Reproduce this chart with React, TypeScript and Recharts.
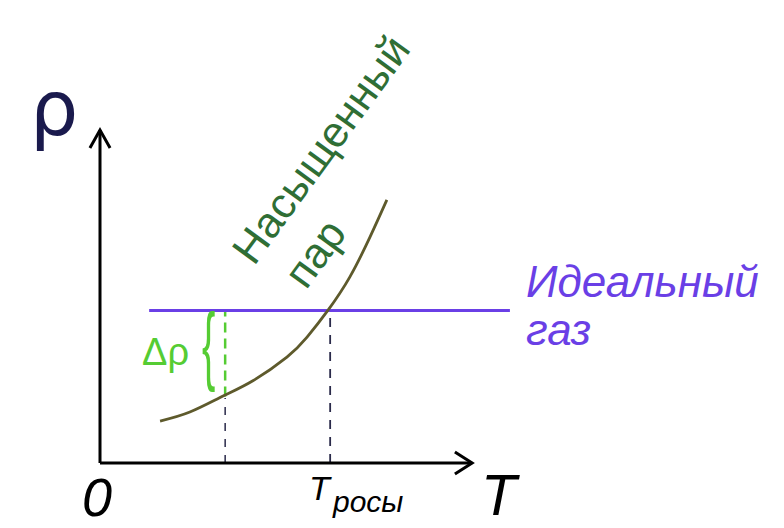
import { ComposedChart, Line, XAxis, YAxis } from 'recharts';

// saturated vapour curve  ρ(T)
const vaporT = [1.43, 2.14, 2.93, 3.64, 4.45, 4.93, 5.43, 5.95, 6.43, 6.83];
const vaporRho = [1.26, 1.53, 2.01, 2.47, 3.18, 3.78, 4.59, 5.59, 6.79, 7.9];

// ideal gas: constant density
const idealT = [1.17, 9.76];
const idealRho = [4.58, 4.58];

// dew point and the Δρ marker
const dewT = [5.48, 5.48];
const dewRho = [0, 4.58];
const deltaT = [2.98, 2.98];
const deltaRho = [2.0, 4.58];
const deltaBaseRho = [0, 1.95];

// axes with open arrow heads
const xAxisT = [0, 8.86];
const xAxisRho = [0, 0];
const yAxisT = [0, 0];
const yAxisRho = [0, 10];
const xArrowT = [8.45, 8.86, 8.45];
const xArrowRho = [0.33, 0, -0.33];
const yArrowT = [-0.24, 0, 0.24];
const yArrowRho = [9.46, 10, 9.46];

const zip = (t: number[], rho: number[]) => t.map((v, i) => ({ T: v, rho: rho[i] }));

const FONT = '"Liberation Sans", Arial, sans-serif';
const GREEN = '#55cc33';
const PURPLE = '#6a3fe6';

export default function App() {
  const common = { dataKey: 'rho', dot: false, activeDot: false, isAnimationActive: false, type: 'linear' as const };

  // domain starts at -0.5 so the arrow wings stay inside; origin lands at (100, 463)
  return (
    <div style={{ position: 'absolute', left: 0, top: 0, width: 784, height: 528, background: '#fff' }}>
      <ComposedChart width={784} height={528} margin={{ top: 130, right: 264, bottom: 48.35, left: 79 }}>
        <XAxis type="number" dataKey="T" domain={[-0.5, 10]} hide />
        <YAxis type="number" dataKey="rho" domain={[-0.5, 10]} hide />
        <Line {...common} data={zip(deltaT, deltaBaseRho)} stroke="#2a2a4a" strokeWidth={1.5} strokeDasharray="8 8" />
        <Line {...common} data={zip(dewT, dewRho)} stroke="#2a2a4a" strokeWidth={1.8} strokeDasharray="9 8" />
        <Line {...common} data={zip(deltaT, deltaRho)} stroke={GREEN} strokeWidth={2.5} strokeDasharray="10 6" />
        <Line {...common} data={zip(idealT, idealRho)} stroke={PURPLE} strokeWidth={3} />
        <Line {...common} type="natural" data={zip(vaporT, vaporRho)} stroke="#5e5a2c" strokeWidth={2.8} />
        <Line {...common} data={zip(xAxisT, xAxisRho)} stroke="#000" strokeWidth={3} />
        <Line {...common} data={zip(yAxisT, yAxisRho)} stroke="#000" strokeWidth={3} />
        <Line {...common} data={zip(xArrowT, xArrowRho)} stroke="#000" strokeWidth={3} />
        <Line {...common} data={zip(yArrowT, yArrowRho)} stroke="#000" strokeWidth={3} />
      </ComposedChart>
      <svg width={784} height={528} style={{ position: 'absolute', left: 0, top: 0, pointerEvents: 'none' }}>
        <g fontFamily={FONT}>
          <text x={30} y={135} fontSize={76} fontFamily="DejaVu Sans" fill="#1a1a4d">ρ</text>
          <text x={82} y={516} fontSize={54} fontStyle="italic" fill="#000">0</text>
          <text x={481} y={515} fontSize={58} fontStyle="italic" fill="#000">T</text>
          <text x={309} y={500} fontSize={34} fontStyle="italic" fill="#000">T</text>
          <text x={333} y={512} fontSize={30} fontStyle="italic" fill="#000">росы</text>
          <text x={526} y={297} fontSize={44} fontStyle="italic" fill={PURPLE}>Идеальный</text>
          <text x={526} y={345} fontSize={44} fontStyle="italic" fill={PURPLE}>газ</text>
          <text x={333} y={158} fontSize={43} textAnchor="middle" fill="#2f6e35" transform="rotate(-54 333 158)">Насыщенный</text>
          <text x={327} y={262} fontSize={43} textAnchor="middle" fill="#2f6e35" transform="rotate(-54 327 262)">пар</text>
          <text x={142} y={365} fontSize={38} fill={GREEN}>Δρ</text>
          <text x={0} y={0} fontSize={40} fill={GREEN} transform="translate(202 374) scale(1 2.2)">{'{'}</text>
        </g>
      </svg>
    </div>
  );
}
